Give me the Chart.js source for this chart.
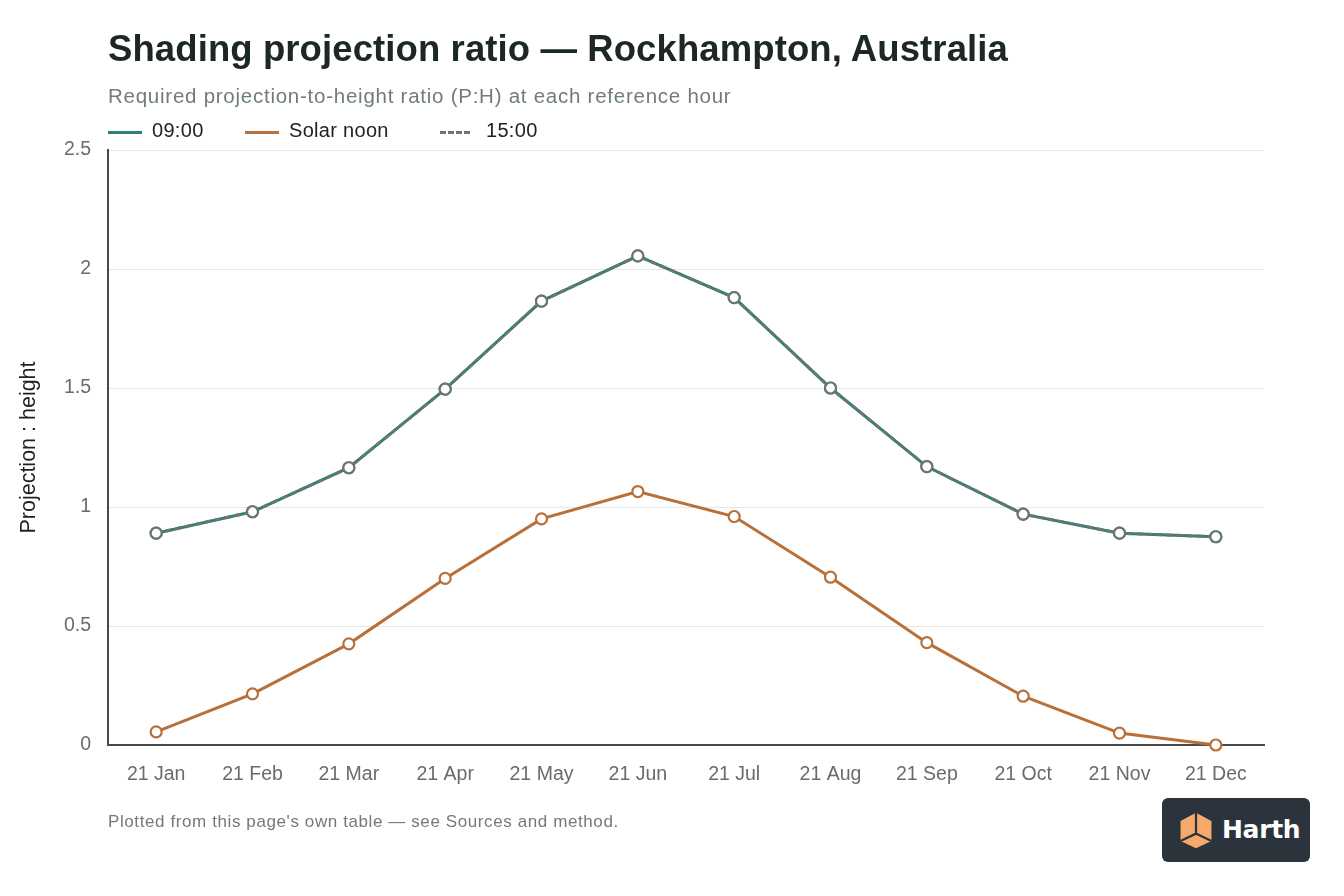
<!DOCTYPE html>
<html>
<head>
<meta charset="utf-8">
<script src="https://cdn.jsdelivr.net/npm/chart.js@4.4.1/dist/chart.umd.min.js"></script>
<style>
  html, body { margin: 0; padding: 0; background: #fff; }
  body { width: 1344px; height: 896px; position: relative; overflow: hidden;
         font-family: "Liberation Sans", Arial, sans-serif; }
  #wrap { position: absolute; left: 0; top: 0; width: 1344px; height: 896px; }
  .title { position: absolute; left: 108px; top: 28px; font-size: 36.5px; font-weight: 600;
           color: #1d2826; letter-spacing: 0.1px; }
  .sub { position: absolute; left: 108px; top: 84px; font-size: 20.5px; color: #6f7d78;
         letter-spacing: 0.75px; }
  .legend { position: absolute; left: 108px; top: 119px; font-size: 20px; color: #222; letter-spacing: 0.3px; }
  .legend span.item { position: absolute; white-space: nowrap; top: 0; }
  .legend i { position: absolute; top: 12px; width: 34px; height: 0; border-top: 3px solid; }
  .foot { position: absolute; left: 108px; top: 812px; font-size: 17px; color: #787878; letter-spacing: 0.6px; }
  .logo { position: absolute; left: 1162px; top: 798px; width: 148px; height: 64px;
          background: #2b343c; border-radius: 6px; }
  .logo b { position: absolute; left: 60px; top: 17px; font-size: 25px; color: #fff;
            font-family: "DejaVu Sans", sans-serif; font-weight: bold; letter-spacing: -0.3px; }
</style>
</head>
<body>
<div id="wrap"><canvas id="chart"></canvas></div>
<div class="title">Shading projection ratio — Rockhampton, Australia</div>
<div class="sub">Required projection-to-height ratio (P:H) at each reference hour</div>
<div class="legend" id="legend"></div>
<div class="foot">Plotted from this page's own table — see Sources and method.</div>
<div class="logo">
  <svg width="40" height="40" viewBox="0 0 44 44" style="position:absolute;left:14px;top:12px">
    <polygon points="22,3 39,12 39,34 22,42 5,34 5,12" fill="#f5a96b"/>
    <polyline points="22,3 22,26 39,34" fill="none" stroke="#2b343c" stroke-width="2.5"/>
    <polyline points="22,26 5,34" fill="none" stroke="#2b343c" stroke-width="2.5"/>
  </svg>
  <b>Harth</b>
</div>
<script>
const months = ["21 Jan", "21 Feb", "21 Mar", "21 Apr", "21 May", "21 Jun",
                "21 Jul", "21 Aug", "21 Sep", "21 Oct", "21 Nov", "21 Dec"];
const morning = [0.89, 0.98, 1.165, 1.495, 1.865, 2.055, 1.88, 1.50, 1.17, 0.97, 0.89, 0.875];
const noon = [0.055, 0.215, 0.425, 0.70, 0.95, 1.065, 0.96, 0.705, 0.43, 0.205, 0.05, 0.0];
const afternoon = [0.89, 0.98, 1.165, 1.495, 1.865, 2.055, 1.88, 1.50, 1.17, 0.97, 0.89, 0.875];
const yTicks = [0, 0.5, 1, 1.5, 2, 2.5];

const TEAL = "#2f7f7a", ORANGE = "#b8703a", GREY = "#6c7671";

function series(label, data, color, order, dash) {
  return {
    label: label,
    data: data,
    order: order,
    borderColor: color,
    backgroundColor: "#fff",
    borderWidth: 3,
    borderDash: dash || [],
    pointRadius: 5.5,
    pointBorderWidth: 2.2,
    pointBackgroundColor: "#fff",
    pointBorderColor: color,
    tension: 0,
    clip: false
  };
}

// lower order is drawn on top, so the grey 15:00 points sit over 09:00
const datasets = [
  series("09:00", morning, TEAL, 3),
  series("Solar noon", noon, ORANGE, 2),
  series("15:00", afternoon, GREY, 1, [6, 4])
];

// html legend
const legendPos = [0, 137, 332];
const leg = document.getElementById("legend");
datasets.forEach((d, i) => {
  const s = document.createElement("span");
  s.className = "item";
  s.style.left = legendPos[i] + "px";
  const line = document.createElement("i");
  line.style.borderTopColor = d.borderColor;
  line.style.left = "0px";
  if (d.borderDash.length) { line.style.borderTopStyle = "dashed"; line.style.width = "30px"; }
  s.appendChild(line);
  const t = document.createElement("span");
  t.textContent = d.label;
  t.style.marginLeft = (d.borderDash.length ? 46 : 44) + "px";
  s.appendChild(t);
  leg.appendChild(s);
});

const tickFont = { family: "Liberation Sans", size: 19.5 };

new Chart(document.getElementById("chart"), {
  type: "line",
  data: { labels: months, datasets: datasets },
  options: {
    responsive: true,
    maintainAspectRatio: false,
    animation: false,
    layout: { padding: { left: 16, right: 80, top: 150, bottom: 0 } },
    plugins: { legend: { display: false }, title: { display: false }, tooltip: { enabled: false } },
    scales: {
      x: {
        offset: true,
        grid: { display: false, drawTicks: false },
        border: { display: true, color: "#4a4a4a", width: 2 },
        ticks: { color: "#6b6b6b", font: tickFont, padding: 18, maxRotation: 0 },
        afterFit: s => { s.height = 896 - 745; }
      },
      y: {
        min: 0,
        max: 2.5,
        afterBuildTicks: s => { s.ticks = yTicks.map(v => ({ value: v })); },
        grid: { color: "#e6e6e6", lineWidth: 1, drawTicks: false },
        border: { display: true, color: "#4a4a4a", width: 2 },
        ticks: { color: "#6b6b6b", font: tickFont, padding: 17, callback: v => String(v) },
        title: { display: true, text: "Projection : height", color: "#222",
                 font: { family: "Liberation Sans", size: 21.5 }, padding: { top: 0, bottom: 0 } },
        afterFit: s => { s.width = 108 - 16; }
      }
    }
  }
});
</script>
</body>
</html>
